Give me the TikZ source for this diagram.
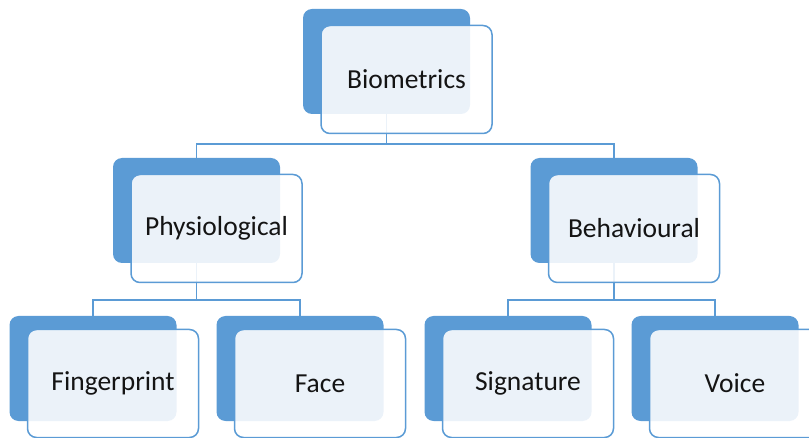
\documentclass[tikz,border=0pt]{standalone}
\usepackage{fontspec}
\setmainfont{Carlito}
\usetikzlibrary{positioning}
\definecolor{smblue}{RGB}{91,155,213}
\definecolor{smtext}{RGB}{20,20,20}

\begin{document}
\begin{tikzpicture}[x=1pt, y=-1pt,
  backbox/.style={fill=smblue, rounded corners=9pt, minimum width=167pt, minimum height=105pt, inner sep=0pt},
  frontbox/.style={draw=smblue, line width=1.5pt, fill=white, fill opacity=0.88, text opacity=1, text=smtext,
    rounded corners=9pt, minimum width=171pt, minimum height=108pt, inner sep=0pt, font=\fontsize{27.5}{31}\selectfont},
  link/.style={smblue, line width=1.5pt}]
\clip (0,0) rectangle (809,438);
% Blue back shapes
\node[backbox] (bioback) at (386.5,61.5) {};
\node[backbox] (physback) at (196.5,210.5) {};
\node[backbox] (behavback) at (614,210.5) {};
\node[backbox] (fingerback) at (93,368.5) {};
\node[backbox] (faceback) at (300,368.5) {};
\node[backbox] (signback) at (508,368.5) {};
\node[backbox] (voiceback) at (715,368.5) {};
% Connectors
\draw[link] (bioback.south) -- ++(0,30) coordinate (biojoin);
\draw[link] (physback.north) |- (biojoin) -| (behavback.north);
\draw[link] (physback.south) -- ++(0,37) coordinate (physjoin);
\draw[link] (fingerback.north) |- (physjoin) -| (faceback.north);
\draw[link] (behavback.south) -- ++(0,37) coordinate (behavjoin);
\draw[link] (signback.north) |- (behavjoin) -| (voiceback.north);
% Front shapes with labels
\node[frontbox] (bio) at ([xshift=20pt,yshift=-18pt]bioback.center) {Biometrics};
\node[frontbox] (phys) at ([xshift=20pt,yshift=-18pt]physback.center) {Physiological};
\node[frontbox] (behav) at ([xshift=20pt,yshift=-18pt]behavback.center) {Behavioural};
\node[frontbox] (finger) at ([xshift=20pt,yshift=-15pt]fingerback.center) {Fingerprint};
\node[frontbox] (face) at ([xshift=20pt,yshift=-15pt]faceback.center) {Face};
\node[frontbox] (sign) at ([xshift=20pt,yshift=-15pt]signback.center) {Signature};
\node[frontbox] (voice) at ([xshift=20pt,yshift=-15pt]voiceback.center) {Voice};
\end{tikzpicture}
\end{document}
